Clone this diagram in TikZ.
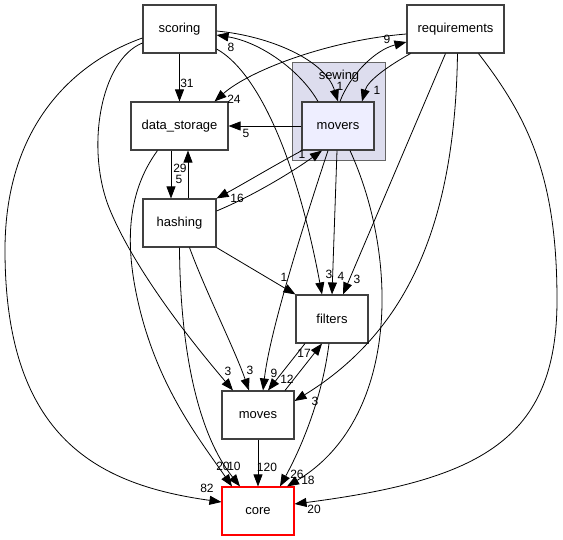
\documentclass[tikz,border=0pt]{standalone}
\usepackage{fontspec}
\setmainfont{Liberation Sans}
\usetikzlibrary{arrows.meta, positioning}
\definecolor{sewfill}{HTML}{DDDDEE}
\definecolor{moverfill}{HTML}{EEEEFF}
\definecolor{boxline}{HTML}{404040}

\begin{document}
\begin{tikzpicture}[x=1pt, y=-1pt,
  dir/.style={draw=boxline, line width=1.1pt, fill=white, minimum width=73pt,
              minimum height=48pt, inner sep=0pt, font=\fontsize{13}{15}\selectfont},
  dep/.style={-{Triangle[length=12pt,width=9pt]}, line width=0.8pt},
  num/.style={font=\fontsize{12}{14}\selectfont, inner sep=0pt}]
  \useasboundingbox (0,0) rectangle (563,540);

  % the sewing cluster
  \node[draw=boxline!80, line width=1pt, fill=sewfill, minimum width=93pt,
        minimum height=98pt, inner sep=0pt] (sewingbox) at (338.5,112) {};
  \node[font=\fontsize{13}{15}\selectfont] (sewing) at (339,76) {sewing};

  % directories
  \node[dir] (scoring) at (179.5,29) {scoring};
  \node[dir, minimum width=97pt] (requirements) at (455.5,29) {requirements};
  \node[dir, minimum width=97pt] (data_storage) at (179.5,126) {data\_storage};
  \node[dir, fill=moverfill, minimum width=72pt] (movers) at (338,126) {movers};
  \node[dir] (hashing) at (179.5,223) {hashing};
  \node[dir, minimum width=72pt] (filters) at (332,319) {filters};
  \node[dir, minimum width=72pt] (moves) at (258,415) {moves};
  \node[dir, draw=red, minimum width=72pt] (core) at (258,511) {core};

  % dependencies
  \draw[dep] (scoring.south) -- (data_storage.north) node[num] at (187,83) {31};
  \draw[dep] ([yshift=-2pt]scoring.east) .. controls (270,36) and (325,60) .. (movers.north)
    node[num] at (340,86) {1};
  \draw[dep] ([xshift=-20pt]movers.north) .. controls (300,70) and (260,42) .. ([yshift=-6pt]scoring.east)
    node[num] at (231,47) {8};
  \draw[dep] ([yshift=-5pt]requirements.west) .. controls (330,40) and (250,70) .. ([xshift=35pt]data_storage.north)
    node[num] at (234,99) {24};
  \draw[dep] ([xshift=2pt]movers.north) .. controls (350,75) and (375,50) .. ([yshift=-13pt]requirements.west)
    node[num] at (387,39) {9};
  \draw[dep] ([xshift=-45pt]requirements.south) .. controls (390,65) and (368,80) .. ([xshift=24pt]movers.north)
    node[num] at (377,90) {1};
  \draw[dep] (movers.west) -- (data_storage.east) node[num] at (246,133) {5};
  \draw[dep] ([xshift=-8.5pt]data_storage.south) -- ([xshift=-8.5pt]hashing.north) node[num] at (179,179) {5};
  \draw[dep] ([xshift=8.5pt]hashing.north) -- ([xshift=8.5pt]data_storage.south) node[num] at (180,168) {29};
  \draw[dep] ([xshift=-36pt]movers.south) .. controls (275,165) and (245,183) .. (hashing.north east)
    node[num] at (237,198) {16};
  \draw[dep] ([yshift=12pt]hashing.east) .. controls (255,195) and (295,170) .. ([xshift=-16pt]movers.south)
    node[num] at (302,154) {1};
  \draw[dep] ([yshift=-20pt]scoring.east) .. controls (255,70) and (295,150) .. ([xshift=-10pt]filters.north)
    node[num] at (329,274) {3};
  \draw[dep] ([xshift=-1pt]movers.south) -- (filters.north) node[num] at (341,276) {4};
  \draw[dep] ([xshift=-10pt]requirements.south) -- ([xshift=11pt]filters.north) node[num] at (357,279) {3};
  \draw[dep] (hashing.south east) -- (filters.north west) node[num] at (284,277) {1};
  \draw[dep] ([yshift=-14pt]scoring.west) .. controls (100,60) and (85,150) .. (110,210)
    .. controls (135,270) and (190,340) .. ([xshift=-25pt]moves.north) node[num] at (228,371) {3};
  \draw[dep] ([xshift=10pt]hashing.south) .. controls (205,290) and (235,350) .. ([xshift=-9pt]moves.north)
    node[num] at (250,370) {3};
  \draw[dep] ([xshift=-10pt]movers.south) .. controls (305,220) and (270,330) .. ([xshift=5pt]moves.north)
    node[num] at (274,373) {9};
  \draw[dep] ([xshift=-27pt]filters.south) -- ([xshift=10pt]moves.north) node[num] at (287,379) {12};
  \draw[dep] ([xshift=27pt]moves.north) -- ([xshift=-10pt]filters.south) node[num] at (304,353) {17};
  \draw[dep] ([xshift=2pt]requirements.south) .. controls (455,220) and (410,330) .. ([yshift=14pt]moves.east)
    node[num] at (315,401) {3};
  \draw[dep] (moves.south) -- (core.north) node[num] at (267,467) {120};
  \draw[dep] ([yshift=-9pt]scoring.west) .. controls (80,60) and (5,120) .. (5,250)
    .. controls (5,440) and (100,485) .. ([yshift=9pt]core.west) node[num] at (207,488) {82};
  \draw[dep] ([xshift=-22pt]data_storage.south) .. controls (125,195) and (125,250) .. (140,310)
    .. controls (160,390) and (200,440) .. ([xshift=-26pt]core.north) node[num] at (223,466) {20};
  \draw[dep] (hashing.south) .. controls (180,340) and (195,430) .. ([xshift=-18pt]core.north)
    node[num] at (234,466) {10};
  \draw[dep] ([xshift=-3pt]filters.south) .. controls (322,400) and (300,450) .. ([xshift=22pt]core.north)
    node[num] at (297,474) {26};
  \draw[dep] ([xshift=12pt]movers.south) .. controls (400,260) and (398,420) .. ([xshift=29pt]core.north)
    node[num] at (308,480) {18};
  \draw[dep] ([xshift=23pt]requirements.south) .. controls (530,120) and (557,180) .. (557,300)
    .. controls (557,440) and (480,480) .. ([yshift=7pt]core.east) node[num] at (314,509) {20};
\end{tikzpicture}
\end{document}
